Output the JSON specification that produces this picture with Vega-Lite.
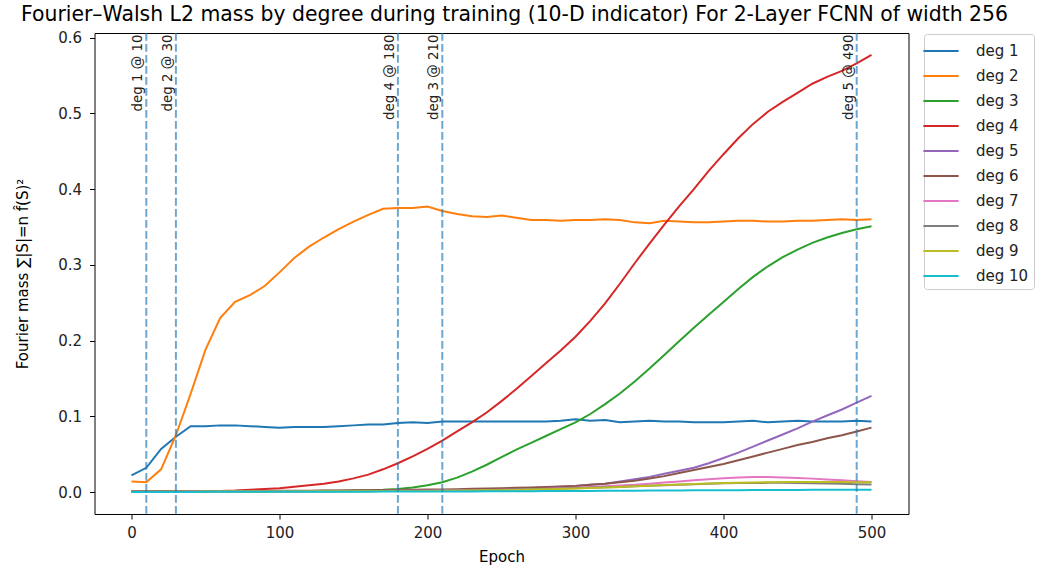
{
  "$schema": "https://vega.github.io/schema/vega-lite/v6.json",
  "width": 814,
  "height": 481,
  "autosize": {"type": "none"},
  "padding": {"left": 94.5, "top": 33, "right": 130.5, "bottom": 53},
  "title": {"text": "Fourier–Walsh L2 mass by degree during training (10-D indicator) For 2-Layer FCNN of width 256", "fontSize": 20.4, "fontWeight": "normal", "font": "DejaVu Sans", "color": "#000", "offset": 5, "dx": 13},
  "config": {
    "font": "DejaVu Sans",
    "view": {"stroke": "#000", "strokeWidth": 1},
    "axis": {"grid": false, "domain": false, "tickColor": "#000", "tickSize": 5, "labelFontSize": 15, "labelColor": "#222", "titleFontSize": 15, "titleFontWeight": "normal", "titleColor": "#000", "labelFont": "DejaVu Sans", "titleFont": "DejaVu Sans"},
    "legend": {"labelFontSize": 15, "labelFont": "DejaVu Sans", "labelColor": "#222"}
  },
  "datasets": {
    "wide": [
      {"epoch": 0, "deg 1": 0.022, "deg 2": 0.014, "deg 3": 0.001, "deg 4": 0.001, "deg 5": 0.0005, "deg 6": 0.001, "deg 7": 0.0005, "deg 8": 0.0005, "deg 9": 0.0005, "deg 10": 0.0002},
      {"epoch": 10, "deg 1": 0.032, "deg 2": 0.013, "deg 3": 0.001, "deg 4": 0.001, "deg 5": 0.0005, "deg 6": 0.001, "deg 7": 0.0005, "deg 8": 0.0005, "deg 9": 0.0005, "deg 10": 0.0002},
      {"epoch": 20, "deg 1": 0.057, "deg 2": 0.030, "deg 3": 0.001, "deg 4": 0.001, "deg 5": 0.0005, "deg 6": 0.001, "deg 7": 0.0005, "deg 8": 0.0005, "deg 9": 0.0005, "deg 10": 0.0002},
      {"epoch": 30, "deg 1": 0.073, "deg 2": 0.075, "deg 3": 0.001, "deg 4": 0.001, "deg 5": 0.0006, "deg 6": 0.001, "deg 7": 0.0005, "deg 8": 0.0005, "deg 9": 0.0005, "deg 10": 0.0002},
      {"epoch": 40, "deg 1": 0.087, "deg 2": 0.130, "deg 3": 0.001, "deg 4": 0.001, "deg 5": 0.0006, "deg 6": 0.001, "deg 7": 0.0006, "deg 8": 0.0005, "deg 9": 0.0005, "deg 10": 0.0002},
      {"epoch": 50, "deg 1": 0.087, "deg 2": 0.188, "deg 3": 0.001, "deg 4": 0.0012, "deg 5": 0.0007, "deg 6": 0.0011, "deg 7": 0.0006, "deg 8": 0.0006, "deg 9": 0.0006, "deg 10": 0.0003},
      {"epoch": 60, "deg 1": 0.088, "deg 2": 0.230, "deg 3": 0.001, "deg 4": 0.0015, "deg 5": 0.0008, "deg 6": 0.0012, "deg 7": 0.0007, "deg 8": 0.0006, "deg 9": 0.0006, "deg 10": 0.0003},
      {"epoch": 70, "deg 1": 0.088, "deg 2": 0.251, "deg 3": 0.0012, "deg 4": 0.002, "deg 5": 0.0008, "deg 6": 0.0013, "deg 7": 0.0007, "deg 8": 0.0007, "deg 9": 0.0006, "deg 10": 0.0003},
      {"epoch": 80, "deg 1": 0.087, "deg 2": 0.260, "deg 3": 0.0012, "deg 4": 0.003, "deg 5": 0.0009, "deg 6": 0.0014, "deg 7": 0.0008, "deg 8": 0.0007, "deg 9": 0.0007, "deg 10": 0.0003},
      {"epoch": 90, "deg 1": 0.086, "deg 2": 0.272, "deg 3": 0.0013, "deg 4": 0.004, "deg 5": 0.001, "deg 6": 0.0015, "deg 7": 0.0008, "deg 8": 0.0008, "deg 9": 0.0007, "deg 10": 0.0003},
      {"epoch": 100, "deg 1": 0.085, "deg 2": 0.290, "deg 3": 0.0013, "deg 4": 0.005, "deg 5": 0.001, "deg 6": 0.0016, "deg 7": 0.0009, "deg 8": 0.0008, "deg 9": 0.0008, "deg 10": 0.0004},
      {"epoch": 110, "deg 1": 0.086, "deg 2": 0.309, "deg 3": 0.0014, "deg 4": 0.007, "deg 5": 0.0011, "deg 6": 0.0017, "deg 7": 0.001, "deg 8": 0.0009, "deg 9": 0.0008, "deg 10": 0.0004},
      {"epoch": 120, "deg 1": 0.086, "deg 2": 0.324, "deg 3": 0.0015, "deg 4": 0.009, "deg 5": 0.0012, "deg 6": 0.0018, "deg 7": 0.001, "deg 8": 0.0009, "deg 9": 0.0009, "deg 10": 0.0004},
      {"epoch": 130, "deg 1": 0.086, "deg 2": 0.336, "deg 3": 0.0016, "deg 4": 0.011, "deg 5": 0.0012, "deg 6": 0.0019, "deg 7": 0.0011, "deg 8": 0.001, "deg 9": 0.0009, "deg 10": 0.0004},
      {"epoch": 140, "deg 1": 0.087, "deg 2": 0.347, "deg 3": 0.0018, "deg 4": 0.014, "deg 5": 0.0013, "deg 6": 0.002, "deg 7": 0.0012, "deg 8": 0.001, "deg 9": 0.001, "deg 10": 0.0005},
      {"epoch": 150, "deg 1": 0.088, "deg 2": 0.357, "deg 3": 0.002, "deg 4": 0.018, "deg 5": 0.0014, "deg 6": 0.0022, "deg 7": 0.0013, "deg 8": 0.0011, "deg 9": 0.001, "deg 10": 0.0005},
      {"epoch": 160, "deg 1": 0.089, "deg 2": 0.366, "deg 3": 0.0025, "deg 4": 0.023, "deg 5": 0.0015, "deg 6": 0.0024, "deg 7": 0.0014, "deg 8": 0.0012, "deg 9": 0.0011, "deg 10": 0.0005},
      {"epoch": 170, "deg 1": 0.089, "deg 2": 0.374, "deg 3": 0.003, "deg 4": 0.030, "deg 5": 0.0016, "deg 6": 0.0026, "deg 7": 0.0015, "deg 8": 0.0013, "deg 9": 0.0012, "deg 10": 0.0006},
      {"epoch": 180, "deg 1": 0.091, "deg 2": 0.375, "deg 3": 0.004, "deg 4": 0.038, "deg 5": 0.0018, "deg 6": 0.0028, "deg 7": 0.0016, "deg 8": 0.0014, "deg 9": 0.0013, "deg 10": 0.0006},
      {"epoch": 190, "deg 1": 0.092, "deg 2": 0.375, "deg 3": 0.006, "deg 4": 0.047, "deg 5": 0.002, "deg 6": 0.003, "deg 7": 0.0017, "deg 8": 0.0015, "deg 9": 0.0014, "deg 10": 0.0006},
      {"epoch": 200, "deg 1": 0.091, "deg 2": 0.377, "deg 3": 0.009, "deg 4": 0.057, "deg 5": 0.0022, "deg 6": 0.0032, "deg 7": 0.0018, "deg 8": 0.0016, "deg 9": 0.0015, "deg 10": 0.0007},
      {"epoch": 210, "deg 1": 0.093, "deg 2": 0.371, "deg 3": 0.013, "deg 4": 0.068, "deg 5": 0.0025, "deg 6": 0.0035, "deg 7": 0.002, "deg 8": 0.0018, "deg 9": 0.0016, "deg 10": 0.0007},
      {"epoch": 220, "deg 1": 0.093, "deg 2": 0.367, "deg 3": 0.019, "deg 4": 0.080, "deg 5": 0.0028, "deg 6": 0.0038, "deg 7": 0.0022, "deg 8": 0.002, "deg 9": 0.0018, "deg 10": 0.0008},
      {"epoch": 230, "deg 1": 0.093, "deg 2": 0.364, "deg 3": 0.027, "deg 4": 0.092, "deg 5": 0.0032, "deg 6": 0.0042, "deg 7": 0.0025, "deg 8": 0.0022, "deg 9": 0.002, "deg 10": 0.0008},
      {"epoch": 240, "deg 1": 0.093, "deg 2": 0.363, "deg 3": 0.036, "deg 4": 0.105, "deg 5": 0.0036, "deg 6": 0.0046, "deg 7": 0.0028, "deg 8": 0.0025, "deg 9": 0.0022, "deg 10": 0.0009},
      {"epoch": 250, "deg 1": 0.093, "deg 2": 0.365, "deg 3": 0.046, "deg 4": 0.120, "deg 5": 0.004, "deg 6": 0.005, "deg 7": 0.003, "deg 8": 0.0028, "deg 9": 0.0025, "deg 10": 0.001},
      {"epoch": 260, "deg 1": 0.093, "deg 2": 0.362, "deg 3": 0.056, "deg 4": 0.136, "deg 5": 0.0046, "deg 6": 0.0055, "deg 7": 0.0034, "deg 8": 0.0032, "deg 9": 0.0028, "deg 10": 0.001},
      {"epoch": 270, "deg 1": 0.093, "deg 2": 0.359, "deg 3": 0.065, "deg 4": 0.153, "deg 5": 0.0053, "deg 6": 0.006, "deg 7": 0.0038, "deg 8": 0.0036, "deg 9": 0.0032, "deg 10": 0.0011},
      {"epoch": 280, "deg 1": 0.093, "deg 2": 0.359, "deg 3": 0.074, "deg 4": 0.170, "deg 5": 0.006, "deg 6": 0.0066, "deg 7": 0.0043, "deg 8": 0.004, "deg 9": 0.0036, "deg 10": 0.0012},
      {"epoch": 290, "deg 1": 0.094, "deg 2": 0.358, "deg 3": 0.083, "deg 4": 0.187, "deg 5": 0.007, "deg 6": 0.0073, "deg 7": 0.005, "deg 8": 0.0045, "deg 9": 0.004, "deg 10": 0.0013},
      {"epoch": 300, "deg 1": 0.096, "deg 2": 0.359, "deg 3": 0.092, "deg 4": 0.205, "deg 5": 0.008, "deg 6": 0.008, "deg 7": 0.0057, "deg 8": 0.005, "deg 9": 0.0046, "deg 10": 0.0014},
      {"epoch": 310, "deg 1": 0.094, "deg 2": 0.359, "deg 3": 0.103, "deg 4": 0.226, "deg 5": 0.0095, "deg 6": 0.0095, "deg 7": 0.0065, "deg 8": 0.0056, "deg 9": 0.0053, "deg 10": 0.0015},
      {"epoch": 320, "deg 1": 0.095, "deg 2": 0.360, "deg 3": 0.116, "deg 4": 0.249, "deg 5": 0.011, "deg 6": 0.011, "deg 7": 0.0075, "deg 8": 0.0062, "deg 9": 0.006, "deg 10": 0.0016},
      {"epoch": 330, "deg 1": 0.092, "deg 2": 0.359, "deg 3": 0.130, "deg 4": 0.275, "deg 5": 0.014, "deg 6": 0.013, "deg 7": 0.0085, "deg 8": 0.0068, "deg 9": 0.0068, "deg 10": 0.0017},
      {"epoch": 340, "deg 1": 0.093, "deg 2": 0.356, "deg 3": 0.146, "deg 4": 0.302, "deg 5": 0.017, "deg 6": 0.015, "deg 7": 0.0097, "deg 8": 0.0075, "deg 9": 0.0076, "deg 10": 0.0018},
      {"epoch": 350, "deg 1": 0.094, "deg 2": 0.355, "deg 3": 0.163, "deg 4": 0.328, "deg 5": 0.020, "deg 6": 0.018, "deg 7": 0.011, "deg 8": 0.0082, "deg 9": 0.0084, "deg 10": 0.0019},
      {"epoch": 360, "deg 1": 0.093, "deg 2": 0.358, "deg 3": 0.181, "deg 4": 0.353, "deg 5": 0.024, "deg 6": 0.021, "deg 7": 0.0125, "deg 8": 0.009, "deg 9": 0.0092, "deg 10": 0.002},
      {"epoch": 370, "deg 1": 0.093, "deg 2": 0.357, "deg 3": 0.199, "deg 4": 0.377, "deg 5": 0.028, "deg 6": 0.025, "deg 7": 0.014, "deg 8": 0.0097, "deg 9": 0.010, "deg 10": 0.0021},
      {"epoch": 380, "deg 1": 0.092, "deg 2": 0.356, "deg 3": 0.217, "deg 4": 0.400, "deg 5": 0.032, "deg 6": 0.029, "deg 7": 0.0155, "deg 8": 0.0104, "deg 9": 0.0107, "deg 10": 0.0022},
      {"epoch": 390, "deg 1": 0.092, "deg 2": 0.356, "deg 3": 0.234, "deg 4": 0.424, "deg 5": 0.038, "deg 6": 0.033, "deg 7": 0.017, "deg 8": 0.011, "deg 9": 0.0113, "deg 10": 0.0023},
      {"epoch": 400, "deg 1": 0.092, "deg 2": 0.357, "deg 3": 0.251, "deg 4": 0.446, "deg 5": 0.045, "deg 6": 0.037, "deg 7": 0.0182, "deg 8": 0.0115, "deg 9": 0.0118, "deg 10": 0.0024},
      {"epoch": 410, "deg 1": 0.093, "deg 2": 0.358, "deg 3": 0.268, "deg 4": 0.467, "deg 5": 0.052, "deg 6": 0.042, "deg 7": 0.0192, "deg 8": 0.0118, "deg 9": 0.0123, "deg 10": 0.0025},
      {"epoch": 420, "deg 1": 0.094, "deg 2": 0.358, "deg 3": 0.284, "deg 4": 0.486, "deg 5": 0.060, "deg 6": 0.047, "deg 7": 0.0198, "deg 8": 0.012, "deg 9": 0.0127, "deg 10": 0.0026},
      {"epoch": 430, "deg 1": 0.092, "deg 2": 0.357, "deg 3": 0.298, "deg 4": 0.502, "deg 5": 0.068, "deg 6": 0.052, "deg 7": 0.0198, "deg 8": 0.0121, "deg 9": 0.013, "deg 10": 0.0027},
      {"epoch": 440, "deg 1": 0.093, "deg 2": 0.357, "deg 3": 0.310, "deg 4": 0.515, "deg 5": 0.076, "deg 6": 0.057, "deg 7": 0.0193, "deg 8": 0.0121, "deg 9": 0.0132, "deg 10": 0.0028},
      {"epoch": 450, "deg 1": 0.094, "deg 2": 0.358, "deg 3": 0.320, "deg 4": 0.527, "deg 5": 0.084, "deg 6": 0.062, "deg 7": 0.0186, "deg 8": 0.012, "deg 9": 0.0133, "deg 10": 0.0028},
      {"epoch": 460, "deg 1": 0.093, "deg 2": 0.358, "deg 3": 0.329, "deg 4": 0.539, "deg 5": 0.093, "deg 6": 0.066, "deg 7": 0.0177, "deg 8": 0.0117, "deg 9": 0.0133, "deg 10": 0.0029},
      {"epoch": 470, "deg 1": 0.093, "deg 2": 0.359, "deg 3": 0.336, "deg 4": 0.548, "deg 5": 0.101, "deg 6": 0.071, "deg 7": 0.0166, "deg 8": 0.0113, "deg 9": 0.0132, "deg 10": 0.0029},
      {"epoch": 480, "deg 1": 0.093, "deg 2": 0.360, "deg 3": 0.342, "deg 4": 0.556, "deg 5": 0.109, "deg 6": 0.075, "deg 7": 0.0155, "deg 8": 0.0109, "deg 9": 0.0131, "deg 10": 0.003},
      {"epoch": 490, "deg 1": 0.094, "deg 2": 0.359, "deg 3": 0.347, "deg 4": 0.566, "deg 5": 0.118, "deg 6": 0.080, "deg 7": 0.0143, "deg 8": 0.0104, "deg 9": 0.013, "deg 10": 0.003},
      {"epoch": 500, "deg 1": 0.093, "deg 2": 0.360, "deg 3": 0.351, "deg 4": 0.577, "deg 5": 0.127, "deg 6": 0.085, "deg 7": 0.0132, "deg 8": 0.0099, "deg 9": 0.0128, "deg 10": 0.003}
    ],
    "rules": [
      {"epoch": 10, "label": "deg 1 @ 10"},
      {"epoch": 30, "label": "deg 2 @ 30"},
      {"epoch": 180, "label": "deg 4 @ 180"},
      {"epoch": 210, "label": "deg 3 @ 210"},
      {"epoch": 490, "label": "deg 5 @ 490"}
    ]
  },
  "layer": [
    {
      "data": {"name": "wide"},
      "transform": [{"fold": ["deg 1", "deg 2", "deg 3", "deg 4", "deg 5", "deg 6", "deg 7", "deg 8", "deg 9", "deg 10"], "as": ["degree", "mass"]}],
      "mark": {"type": "line", "strokeWidth": 2, "clip": true},
      "encoding": {
        "x": {"field": "epoch", "type": "quantitative", "scale": {"domain": [-25, 525], "nice": false, "zero": false}, "axis": {"values": [0, 100, 200, 300, 400, 500], "title": "Epoch", "titlePadding": 9, "labelPadding": 6}},
        "y": {"field": "mass", "type": "quantitative", "scale": {"domain": [-0.029, 0.606], "nice": false, "zero": false}, "axis": {"values": [0, 0.1, 0.2, 0.3, 0.4, 0.5, 0.6], "format": ".1f", "title": "Fourier mass  ∑|S|=n f̂(S)²", "titlePadding": 27, "labelPadding": 8}},
        "color": {"field": "degree", "type": "nominal", "scale": {"domain": ["deg 1", "deg 2", "deg 3", "deg 4", "deg 5", "deg 6", "deg 7", "deg 8", "deg 9", "deg 10"], "range": ["#1f77b4", "#ff7f0e", "#2ca02c", "#d62728", "#9467bd", "#8c564b", "#e377c2", "#7f7f7f", "#bcbd22", "#17becf"]}, "legend": {"title": null, "orient": "none", "legendX": 829.5, "legendY": 1, "symbolType": "M-1.6,0H1.6", "symbolSize": 484, "symbolStrokeWidth": 2, "labelOffset": 23, "rowPadding": 5, "padding": 5, "strokeColor": "#cccccc", "fillColor": "#ffffff", "cornerRadius": 3}}
      }
    },
    {
      "data": {"name": "rules"},
      "mark": {"type": "rule", "color": "#1f77b4", "opacity": 0.65, "strokeWidth": 2, "strokeDash": [7.7, 3.3]},
      "encoding": {"x": {"field": "epoch", "type": "quantitative"}}
    },
    {
      "data": {"name": "rules"},
      "mark": {"type": "text", "angle": 270, "align": "right", "baseline": "bottom", "fontSize": 13.4, "color": "#222", "dy": -1},
      "encoding": {"x": {"field": "epoch", "type": "quantitative"}, "y": {"datum": 0.604}, "text": {"field": "label"}}
    }
  ]
}
